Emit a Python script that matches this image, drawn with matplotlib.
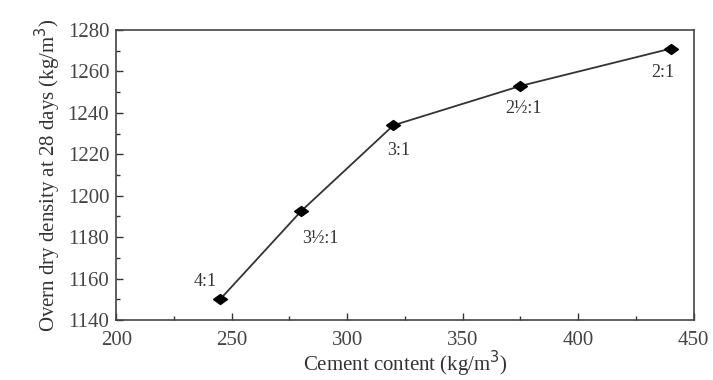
import matplotlib
matplotlib.use('Agg')
import matplotlib.pyplot as plt
from matplotlib.ticker import MultipleLocator

# cement content vs oven dry density, one point per mix ratio
cement = [245, 280, 320, 375, 440]
density = [1150, 1192.5, 1234, 1253, 1271]
ratios = ['4:1', '3½:1', '3:1', '2½:1', '2:1']
# where each ratio label sits relative to its point (pixels)
offsets = [(-15, 18), (19, -27), (5, -25), (3, -23), (-8, -24)]

plt.rcParams['font.family'] = ['Liberation Serif', 'DejaVu Serif']

fig = plt.figure(figsize=(7.13, 3.80), dpi=100)
ax = fig.add_axes([0.163, 0.158, 0.81, 0.763])

# slightly wide diamond
wide_diamond = [(-1.25, 0), (0, 0.9), (1.25, 0), (0, -0.9), (-1.25, 0)]
ax.plot(cement, density, color='#333333', lw=1.3, marker=wide_diamond,
        ms=10, mfc='black', mec='black')

for x, y, txt, (dx, dy) in zip(cement, density, ratios, offsets):
    ax.annotate(txt, (x, y), xytext=(dx, dy), textcoords='offset pixels',
                ha='center', va='center', fontsize=13, color='#333333')

ax.set_xlim(200, 450)
ax.set_ylim(1140, 1280)
ax.xaxis.set_major_locator(MultipleLocator(50))
ax.xaxis.set_minor_locator(MultipleLocator(25))
ax.yaxis.set_major_locator(MultipleLocator(20))
ax.yaxis.set_minor_locator(MultipleLocator(10))
ax.tick_params(which='both', direction='in', top=False, right=False,
               labelsize=15, colors='#333333', labelcolor='#444444')
ax.tick_params(which='major', length=5, width=1)
ax.tick_params(which='minor', length=3, width=1)
ax.tick_params(axis='x', pad=8)
ax.tick_params(axis='y', pad=5)
for s in ax.spines.values():
    s.set_color('#444444')
    s.set_linewidth(1.2)

ax.set_xlabel('Cement content (kg/m$^3$)', fontsize=15, color='#333333',
              labelpad=-1)
ax.set_ylabel('Overn dry density at 28 days (kg/m$^3$)', fontsize=15,
              color='#333333', labelpad=3)

fig.savefig('out.png', dpi=100)
